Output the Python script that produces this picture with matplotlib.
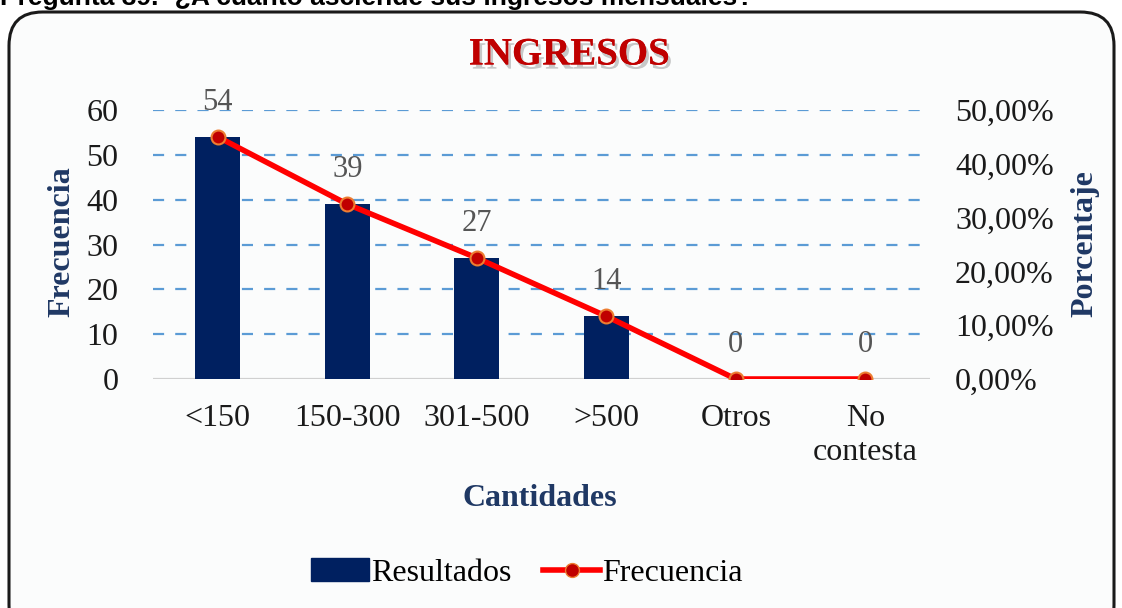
import matplotlib
matplotlib.use("Agg")
import matplotlib.pyplot as plt
from matplotlib.patches import FancyBboxPatch, Patch
from matplotlib.lines import Line2D
import matplotlib.patheffects as pe
from matplotlib.ticker import FuncFormatter, MultipleLocator

categories = ["<150", "150-300", "301-500", ">500", "Otros", "No\ncontesta"]
resultados = [54, 39, 27, 14, 0, 0]
frecuencia = [0.45, 0.325, 0.225, 0.1167, 0.0, 0.0]
title = "INGRESOS"
question = "Pregunta 39.- ¿A cuánto asciende sus ingresos mensuales?"

serif = ["Liberation Serif", "DejaVu Serif"]
navy = "#1F3864"
fs = 23

fig = plt.figure(figsize=(11.22, 6.08), dpi=100)
fig.patch.set_facecolor("white")

box = FancyBboxPatch((9 / 1122, -0.05), 1105 / 1122, 1.0 - 12 / 608 + 0.05,
                     boxstyle="round,pad=0,rounding_size=0.03",
                     transform=fig.transFigure, facecolor="#FBFCFC",
                     edgecolor="#1a1a1a", linewidth=2.2, zorder=-10,
                     mutation_aspect=1122 / 608)
fig.patches.append(box)

fig.text(0.0, 1.0 + 2 / 608, question, ha="left", va="center",
         fontsize=19, fontweight="bold", family=["Liberation Sans", "DejaVu Sans"])

x0, x1 = 153 / 1122, 930 / 1122
y0, y1 = 1 - 379 / 608, 1 - 110 / 608
ax = fig.add_axes([x0, y0, x1 - x0, y1 - y0])
ax.set_facecolor("none")
xs = list(range(len(categories)))
ax.bar(xs, resultados, width=0.35, color="#002060", zorder=2)
ax.set_xlim(-0.5, 5.5)
ax.set_ylim(0, 60)
ax.yaxis.set_major_locator(MultipleLocator(10))
for y in range(10, 61, 10):
    ax.axhline(y, color="#5B9BD5", lw=1.6, ls=(0, (5, 5)), zorder=1)
ax.axhline(0, color="#D0D0D0", lw=1.6, zorder=1)
for s in ax.spines.values():
    s.set_visible(False)
ax.tick_params(axis="both", length=0, labelsize=fs, colors="#1a1a1a")
ax.tick_params(axis="y", pad=25)
ax.tick_params(axis="x", pad=18)
ax.set_xticks(xs)
ax.set_xticklabels(categories, family=serif, linespacing=1.25, va="top")
for lab in ax.get_yticklabels():
    lab.set_family(serif)
for xi, v in zip(xs, resultados):
    ax.annotate(str(v), (xi, v), xytext=(0, 25), textcoords="offset points",
                ha="center", va="center", fontsize=22, color="#555555", family=serif)

ax2 = ax.twinx()
ax2.set_ylim(0, 0.5)
ax2.plot(xs, frecuencia, color="#FF0000", lw=4, marker="o", markersize=10,
         markerfacecolor="#C00000", markeredgecolor="#ED7D31", markeredgewidth=1.5,
         zorder=3)
ax2.yaxis.set_major_locator(MultipleLocator(0.1))
ax2.yaxis.set_major_formatter(FuncFormatter(lambda v, p: f"{v*100:.2f}%".replace(".", ",")))
for s in ax2.spines.values():
    s.set_visible(False)
ax2.tick_params(axis="y", length=0, labelsize=fs, colors="#1a1a1a", pad=18)
for lab in ax2.get_yticklabels():
    lab.set_family(serif)

fig.text(62 / 1122, 1 - 242 / 608, "Frecuencia", rotation=90, ha="center", va="center",
         fontsize=23, fontweight="bold", color=navy, family=serif)
fig.text(1085 / 1122, 1 - 244 / 608, "Porcentaje", rotation=90, ha="center", va="center",
         fontsize=23, fontweight="bold", color=navy, family=serif)
fig.text(540 / 1122, 1 - 498 / 608, "Cantidades", ha="center", va="center",
         fontsize=23, fontweight="bold", color=navy, family=serif)
fig.text(569 / 1122, 1 - 55 / 608, title, ha="center", va="center",
         fontsize=28, fontweight="bold", color="#C00000", family=serif,
         path_effects=[pe.withSimplePatchShadow(offset=(2, -3), shadow_rgbFace="#888888", alpha=0.45),
                       pe.Normal()])

handles = [Patch(color="#002060", label="Resultados"),
           Line2D([], [], color="#FF0000", lw=4, marker="o", markersize=10,
                  markerfacecolor="#C00000", markeredgecolor="#ED7D31", label="Frecuencia")]
fig.legend(handles=handles, loc="center", bbox_to_anchor=(527 / 1122, 1 - 573 / 608),
           ncol=2, frameon=False, prop={"family": serif, "size": fs},
           handlelength=1.8, handletextpad=0.05, columnspacing=1.0, handleheight=0.75)

fig.savefig("out.png", dpi=100, facecolor=fig.get_facecolor())
